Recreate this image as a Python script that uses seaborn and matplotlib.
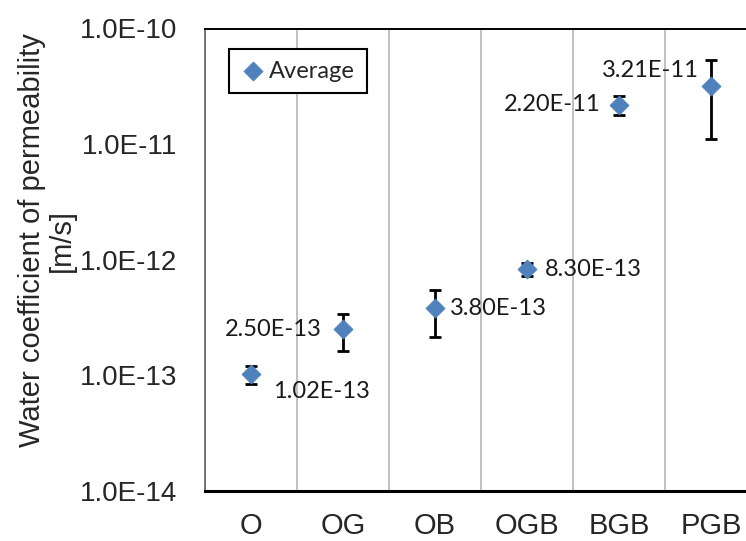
import numpy as np
import pandas as pd
import matplotlib
matplotlib.use("Agg")
import matplotlib.pyplot as plt
import matplotlib.ticker as mticker
import seaborn as sns

# ── DATA ──────────────────────────────────────────────────────────────────────
categories = ["O", "OG", "OB", "OGB", "BGB", "PGB"]
average = [1.02e-13, 2.50e-13, 3.80e-13, 8.30e-13, 2.20e-11, 3.21e-11]
error = [0.18e-13, 0.87e-13, 1.65e-13, 1.00e-13, 0.40e-11, 2.10e-11]
value_labels = ["1.02E-13", "2.50E-13", "3.80E-13", "8.30E-13", "2.20E-11", "3.21E-11"]
y_ticks = [1e-14, 1e-13, 1e-12, 1e-11, 1e-10]

# label placement (offset in points, horizontal alignment)
label_offsets = [(16, -12), (-15, 0), (11, 0), (13, 0), (-13, 0), (-9, 11)]
label_ha = ["left", "right", "left", "left", "right", "right"]

# ── SETUP ─────────────────────────────────────────────────────────────────────
sns.set_style("white")
plt.rcParams["font.family"] = ["Liberation Sans", "DejaVu Sans"]
label_font = ["Lato", "DejaVu Sans"]

df = pd.DataFrame({"Sample": categories, "Average": average, "Error": error})

W, H = 746, 541
fig = plt.figure(figsize=(W / 100, H / 100), dpi=100)
ax = fig.add_axes([205 / W, 1 - 491 / H, 552 / W, (491 - 28.5) / H])

sns.scatterplot(data=df, x="Sample", y="Average", marker="D", s=95,
                color="#4F81BD", edgecolor="#4F81BD", linewidth=0.5,
                ax=ax, zorder=3, label="Average")
ax.errorbar(df["Sample"], df["Average"], yerr=df["Error"], fmt="none",
            ecolor="black", elinewidth=2, capsize=4.5, capthick=2, zorder=2)

for i, (lab, off, ha) in enumerate(zip(value_labels, label_offsets, label_ha)):
    ax.annotate(lab, (categories[i], average[i]), xytext=off,
                textcoords="offset points", ha=ha, va="center",
                fontsize=17, family=label_font, color="#1a1a1a")

# ── AXES ──────────────────────────────────────────────────────────────────────
ax.set_yscale("log")
ax.set_ylim(1e-14, 1e-10)
ax.set_xlim(-0.5, 5.5)
ax.set_yticks(y_ticks)
ax.yaxis.set_minor_locator(mticker.NullLocator())
ax.yaxis.set_major_formatter(mticker.FuncFormatter(lambda v, _: f"{v:.1E}"))

ax.set_xticks(np.arange(-0.5, 6, 1), minor=True)
ax.grid(False)
ax.grid(True, which="minor", axis="x", color="#C0C0C0", linewidth=1.4)

ax.tick_params(axis="x", which="major", length=0, pad=15, labelsize=21)
ax.tick_params(axis="x", which="minor", length=7, width=1.8,
               direction="out", color="black")
ax.tick_params(axis="y", which="major", length=6, width=1, direction="out",
               color="#808080", pad=14, labelsize=20)
ax.set_xlabel("")
ax.set_ylabel("")

ax.spines["left"].set_color("#606060")
ax.spines["left"].set_linewidth(1.2)
ax.spines["bottom"].set_color("black")
ax.spines["bottom"].set_linewidth(2.2)
ax.spines["top"].set_color("black")
ax.spines["top"].set_linewidth(1.4)
ax.spines["right"].set_visible(False)

leg = ax.legend(loc="upper left", bbox_to_anchor=(0.0435, 0.956),
                borderaxespad=0, fancybox=False, edgecolor="black",
                framealpha=1, handletextpad=0.2, handlelength=1.0,
                borderpad=0.5, prop={"family": label_font, "size": 17})
leg.get_frame().set_linewidth(1.5)

fig.text(0.063, 0.556, "Water coefficient of permeability\n[m/s]",
         rotation=90, ha="center", va="center", fontsize=21,
         linespacing=1.05, multialignment="center")

plt.savefig("out.png", dpi=100)
plt.close()
